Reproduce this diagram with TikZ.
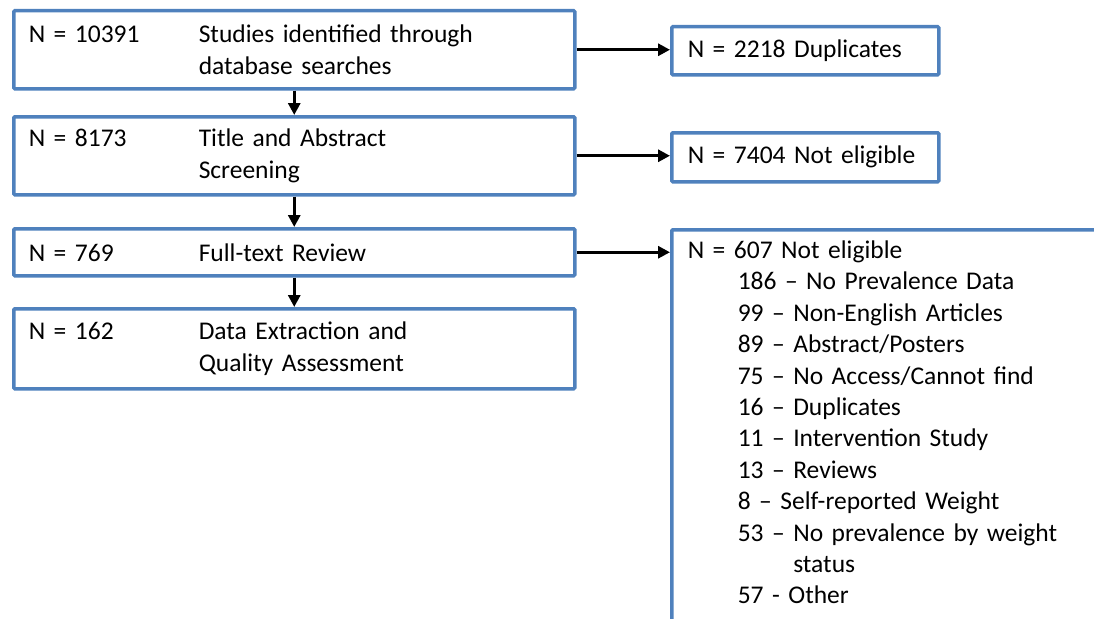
\documentclass[tikz,border=0pt]{standalone}
\usepackage{fontspec}
\setmainfont{Carlito}
\usetikzlibrary{positioning,arrows.meta}
\definecolor{frame}{HTML}{4F81BD}
\hyphenpenalty=10000
\exhyphenpenalty=10000

\begin{document}
\begin{tikzpicture}[x=1pt, y=-1pt, >={Triangle[length=12pt,width=12pt]},
    font=\fontsize{25.5}{31.4}\selectfont,
    stage/.style={draw=frame, line width=3.5pt, rounded corners=1pt, anchor=north west,
      minimum width=561pt, text width=531pt, inner xsep=15pt, align=left},
    outcome/.style={draw=frame, line width=3.5pt, rounded corners=1pt, anchor=north west,
      minimum width=267pt, text width=235pt, inner xsep=16pt, align=left},
    flow/.style={->, line width=3pt}]
    \path[use as bounding box, clip] (0,0) rectangle (1094,618);

    % main stages
    \node[stage, minimum height=78pt] (search) at (12,9)
      {\makebox[170pt][l]{N = 10391}Studies identified through\\\hspace*{170pt}database searches};
    \node[stage, minimum height=78pt] (screen) at (12,115)
      {\makebox[170pt][l]{N = 8173}Title and Abstract\\\hspace*{170pt}Screening};
    \node[stage, minimum height=47pt] (review) at (12,227)
      {\makebox[170pt][l]{N = 769}Full-text Review};
    \node[stage, minimum height=80pt] (extract) at (12,307)
      {\makebox[170pt][l]{N = 162}Data Extraction and\\\hspace*{170pt}Quality Assessment};

    % excluded
    \node[outcome, minimum height=48pt] (dupl) at (670,25) {N = 2218 Duplicates};
    \node[outcome, minimum height=49pt] (inelig) at (670,131) {N = 7404 Not eligible};
    \node[outcome, minimum width=460pt, text width=428pt, inner ysep=11pt] (excl) at (670,228)
      {N = 607 Not eligible\\
       \hspace*{50pt}186 – No Prevalence Data\\
       \hspace*{50pt}99 – Non-English Articles\\
       \hspace*{50pt}89 – Abstract/Posters\\
       \hspace*{50pt}75 – No Access/Cannot find\\
       \hspace*{50pt}16 – Duplicates\\
       \hspace*{50pt}11 – Intervention Study\\
       \hspace*{50pt}13 – Reviews\\
       \hspace*{50pt}8 – Self-reported Weight\\
       \hspace*{50pt}53 – No prevalence by weight\\
       \hspace*{50pt}\phantom{53 – }status\\
       \hspace*{50pt}57 - Other\\
       \mbox{}};

    \draw[flow] (search) -- (screen);
    \draw[flow] (screen) -- (review);
    \draw[flow] (review) -- (extract);
    \draw[flow] (search.east) -- (search.east -| dupl.west);
    \draw[flow] (screen.east) -- (screen.east -| inelig.west);
    \draw[flow] (review.east) -- (review.east -| excl.west);
\end{tikzpicture}
\end{document}
